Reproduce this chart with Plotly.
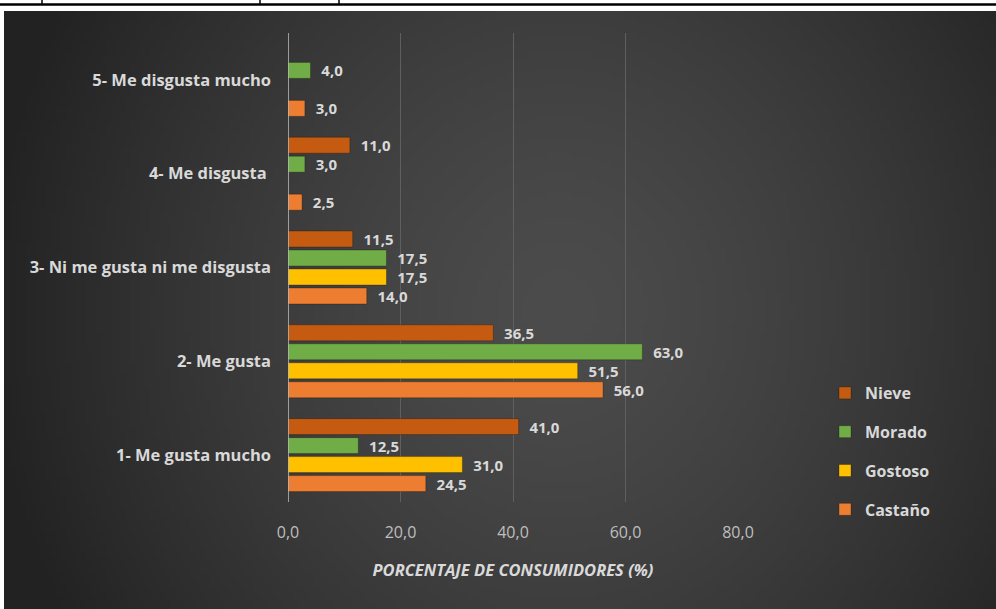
import base64, struct, zlib
import numpy as np
import plotly.graph_objects as go

categories = ["1- Me gusta mucho", "2- Me gusta", "3- Ni me gusta ni me disgusta",
              "4- Me disgusta ", "5- Me disgusta mucho"]
series_names = ["Castaño", "Gostoso", "Morado", "Nieve"]
castano = [24.5, 56.0, 14.0, 2.5, 3.0]
gostoso = [31.0, 51.5, 17.5, None, None]
morado = [12.5, 63.0, 17.5, 3.0, 4.0]
nieve = [41.0, 36.5, 11.5, 11.0, None]
colors = ["#ED7D31", "#FFC000", "#70AD47", "#C55A11"]
legend_ranks = [4, 3, 2, 1]
x_ticks = [0, 20, 40, 60, 80]

W, H = 996, 609
L, R, T, B = 288, 738, 33, 502


def px_x(p):
    return (p - L) / (R - L)


def px_y(p):
    return (B - p) / (B - T)


def radial_png(w, h):
    ys, xs = np.mgrid[0:h, 0:w]
    dx = (xs + 0.5) / w - 0.56
    dy = (ys + 0.5) / h - 0.5
    d = np.sqrt((dx / 0.5) ** 2 + 0.3 * (dy / 0.5) ** 2)
    v = np.clip(76 - 34 * d ** 1.4, 34, 255).astype(np.uint8)
    rgb = np.stack([v, v, v], axis=-1)
    raw = b"".join(b"\x00" + rgb[i].tobytes() for i in range(h))

    def chunk(tag, data):
        c = struct.pack(">I", len(data)) + tag + data
        return c + struct.pack(">I", zlib.crc32(tag + data) & 0xffffffff)

    png = b"\x89PNG\r\n\x1a\n" + chunk(b"IHDR", struct.pack(">IIBBBBB", w, h, 8, 2, 0, 0, 0))
    png += chunk(b"IDAT", zlib.compress(raw, 9)) + chunk(b"IEND", b"")
    return "data:image/png;base64," + base64.b64encode(png).decode()


def fmt(v):
    return "" if v is None else f"{v:.1f}".replace(".", ",")


FONT = "Open Sans"
fig = go.Figure()
for name, vals, col, rk in zip(series_names, [castano, gostoso, morado, nieve], colors, legend_ranks):
    fig.add_trace(go.Bar(
        y=categories, x=vals, name=name, orientation="h",
        marker=dict(color=col, line=dict(width=1, color="rgba(0,0,0,0.25)")),
        text=[("  " + fmt(v)) if v is not None else "" for v in vals],
        textposition="outside", constraintext="none",
        textfont=dict(family=FONT, size=15, color="#d9d9d9", weight="bold"),
        cliponaxis=False, legendgroup=name, legendrank=rk,
    ))

fig.update_layout(
    width=W, height=H,
    margin=dict(l=L, r=W - R, t=T, b=H - B, pad=0),
    paper_bgcolor="white", plot_bgcolor="rgba(0,0,0,0)",
    barmode="group", bargap=0.19, bargroupgap=0.16,
    font=dict(family=FONT, color="#d9d9d9"),
    showlegend=True,
    legend=dict(traceorder="grouped", tracegroupgap=15,
                x=px_x(825), y=px_y(376), xanchor="left", yanchor="top",
                bgcolor="rgba(0,0,0,0)",
                font=dict(family=FONT, size=16, color="#d9d9d9", weight="bold"),
                itemwidth=30),
    xaxis=dict(range=[0, 80], tickvals=x_ticks,
               ticktext=[fmt(float(t)) for t in x_ticks],
               showgrid=True, gridcolor="#5f5f5f", gridwidth=1,
               zeroline=False, showline=False,
               tickfont=dict(family=FONT, size=16, color="#bfbfbf"),
               ticklabelstandoff=19,
               title=dict(text="<i>PORCENTAJE DE CONSUMIDORES (%)</i>",
                          font=dict(family=FONT, size=16.5, color="#d9d9d9", weight="bold"),
                          standoff=22)),
    yaxis=dict(type="category", categoryorder="array", categoryarray=categories,
               showgrid=False, zeroline=False, showline=False,
               tickfont=dict(family=FONT, size=16.5, color="#d9d9d9", weight="bold"),
               ticklabelstandoff=16),
    images=[dict(source=radial_png(200, 120), xref="paper", yref="paper",
                 x=px_x(4), y=px_y(11), sizex=(W - 4) / (R - L), sizey=(H - 11) / (B - T),
                 xanchor="left", yanchor="top", sizing="stretch", layer="below")],
)

# vertical category axis line
fig.add_shape(type="line", xref="x", yref="paper", x0=0, x1=0, y0=0, y1=1,
              line=dict(color="#bfbfbf", width=1.5), layer="above")
# table border lines at the top
fig.add_shape(type="line", xref="paper", yref="paper", x0=px_x(0), x1=px_x(W),
              y0=px_y(4.5), y1=px_y(4.5), line=dict(color="black", width=2.5))
for vx in [42, 260, 339]:
    fig.add_shape(type="line", xref="paper", yref="paper", x0=px_x(vx), x1=px_x(vx),
                  y0=px_y(0), y1=px_y(4.5), line=dict(color="black", width=1.5))

fig.write_html("out.html", config={"displayModeBar": False},
               post_script="document.body.style.margin='0';document.body.style.overflow='hidden';")
